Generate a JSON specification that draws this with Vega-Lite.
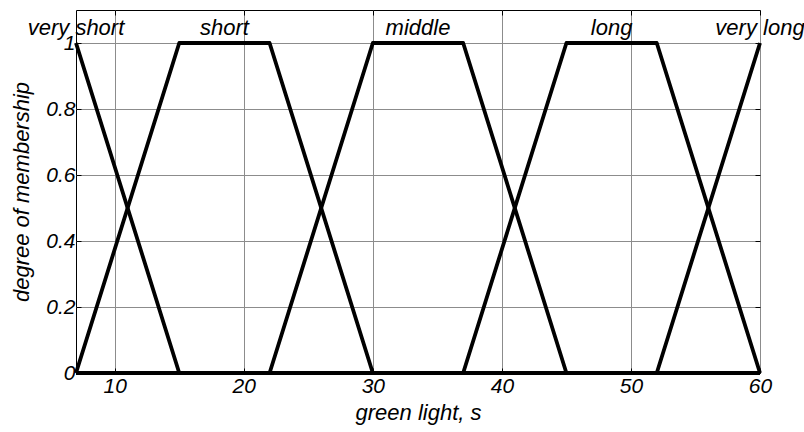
{
  "$schema": "https://vega.github.io/schema/vega-lite/v6.json",
  "width": 684,
  "height": 363,
  "autosize": {"type": "none"},
  "padding": {"left": 76, "top": 10, "right": 44, "bottom": 59},
  "background": "white",
  "config": {
    "font": "Liberation Sans",
    "view": {"stroke": "black", "strokeWidth": 1},
    "axis": {
      "labelFont": "Liberation Sans",
      "titleFont": "Liberation Sans",
      "labelFontStyle": "italic",
      "titleFontStyle": "italic",
      "labelFontSize": 21,
      "titleFontSize": 22,
      "titleFontWeight": "normal",
      "labelColor": "black",
      "titleColor": "black",
      "gridColor": "#8c8c8c",
      "gridOpacity": 1,
      "gridWidth": 1,
      "domain": false,
      "tickColor": "black",
      "tickSize": -5
    }
  },
  "datasets": {
    "mf": [
      {"term": "very short", "x": 7, "y": 1},
      {"term": "very short", "x": 15, "y": 0},
      {"term": "very short", "x": 60, "y": 0},
      {"term": "short", "x": 7, "y": 0},
      {"term": "short", "x": 15, "y": 1},
      {"term": "short", "x": 22, "y": 1},
      {"term": "short", "x": 30, "y": 0},
      {"term": "short", "x": 60, "y": 0},
      {"term": "middle", "x": 7, "y": 0},
      {"term": "middle", "x": 22, "y": 0},
      {"term": "middle", "x": 30, "y": 1},
      {"term": "middle", "x": 37, "y": 1},
      {"term": "middle", "x": 45, "y": 0},
      {"term": "middle", "x": 60, "y": 0},
      {"term": "long", "x": 7, "y": 0},
      {"term": "long", "x": 37, "y": 0},
      {"term": "long", "x": 45, "y": 1},
      {"term": "long", "x": 52, "y": 1},
      {"term": "long", "x": 60, "y": 0},
      {"term": "very long", "x": 7, "y": 0},
      {"term": "very long", "x": 52, "y": 0},
      {"term": "very long", "x": 60, "y": 1}
    ],
    "labels": [
      {"term": "very short", "x": 7, "y": 1.025},
      {"term": "short", "x": 18.5, "y": 1.025},
      {"term": "middle", "x": 33.5, "y": 1.025},
      {"term": "long", "x": 48.5, "y": 1.025},
      {"term": "very long", "x": 60, "y": 1.025}
    ]
  },
  "layer": [
    {
      "data": {"name": "mf"},
      "mark": {"type": "line", "color": "black", "strokeWidth": 3.8, "clip": false, "strokeJoin": "round"},
      "encoding": {
        "x": {
          "field": "x", "type": "quantitative",
          "scale": {"domain": [7, 60], "nice": false, "zero": false},
          "axis": {"values": [10, 20, 30, 40, 50, 60], "title": "green light, s", "labelPadding": 7, "titlePadding": 6, "labelFlush": false}
        },
        "y": {
          "field": "y", "type": "quantitative",
          "scale": {"domain": [0, 1.1], "nice": false},
          "axis": {"values": [0, 0.2, 0.4, 0.6, 0.8, 1], "format": ".1~f", "title": "degree of membership", "labelPadding": 6, "titlePadding": 12, "labelFlush": false}
        },
        "detail": {"field": "term"},
        "order": {"field": "x"}
      }
    },
    {
      "data": {"name": "labels"},
      "mark": {"type": "text", "fontSize": 22, "fontStyle": "italic", "font": "Liberation Sans", "baseline": "alphabetic", "align": "center", "color": "black"},
      "encoding": {
        "x": {"field": "x", "type": "quantitative", "axis": {"orient": "top", "labels": false, "title": null, "grid": false, "values": [10, 20, 30, 40, 50, 60]}},
        "y": {"field": "y", "type": "quantitative", "axis": {"orient": "right", "labels": false, "title": null, "grid": false, "values": [0, 0.2, 0.4, 0.6, 0.8, 1]}},
        "text": {"field": "term"}
      }
    }
  ],
  "resolve": {"axis": {"x": "independent", "y": "independent"}}
}
